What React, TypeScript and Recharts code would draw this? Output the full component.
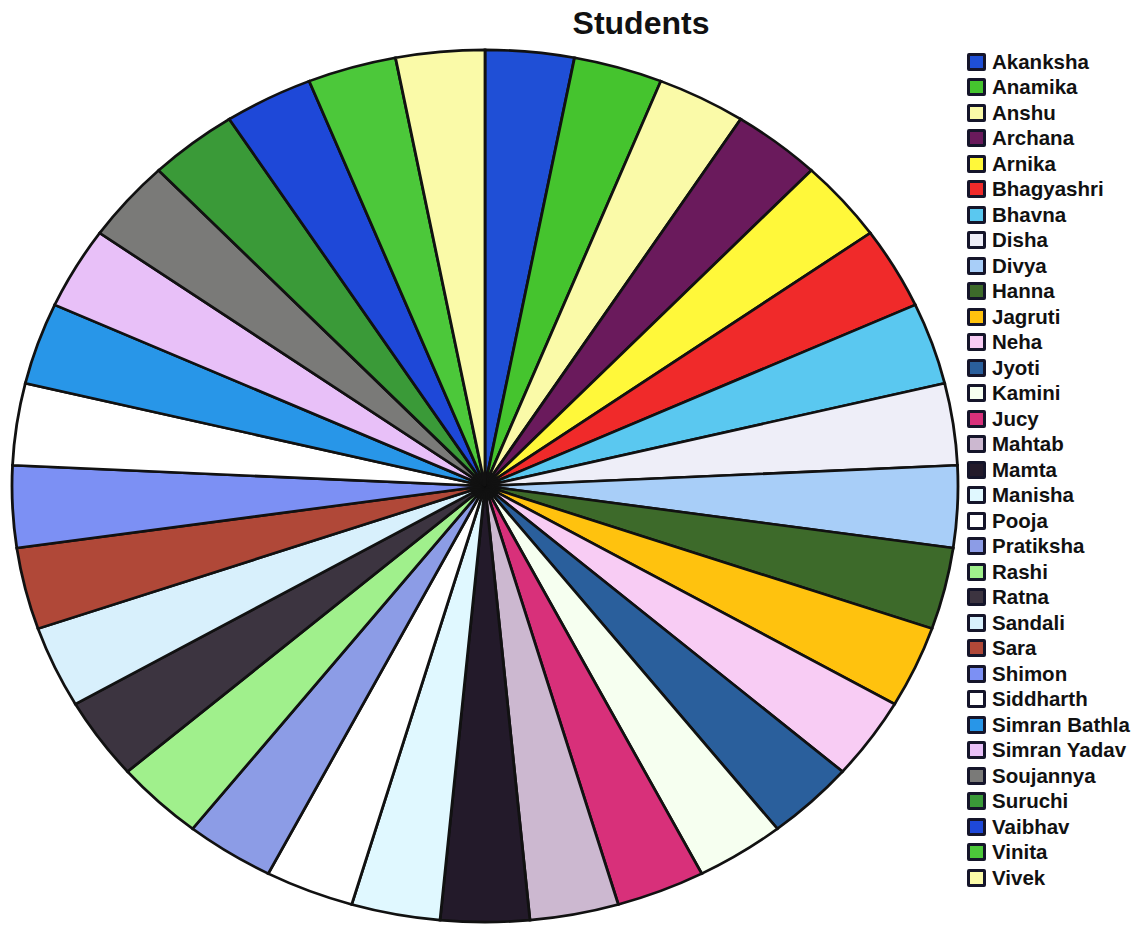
import React from "react";
import { Cell, Legend, Pie, PieChart } from "recharts";

const students = [
  "Akanksha", "Anamika", "Anshu", "Archana", "Arnika", "Bhagyashri", "Bhavna",
  "Disha", "Divya", "Hanna", "Jagruti", "Neha", "Jyoti", "Kamini", "Jucy",
  "Mahtab", "Mamta", "Manisha", "Pooja", "Pratiksha", "Rashi", "Ratna",
  "Sandali", "Sara", "Shimon", "Siddharth", "Simran Bathla", "Simran Yadav",
  "Soujannya", "Suruchi", "Vaibhav", "Vinita", "Vivek",
];

const counts = [
  1, 1, 1, 1, 1, 1, 1, 1, 1, 1, 1, 1, 1, 1, 1, 1, 1,
  1, 1, 1, 1, 1, 1, 1, 1, 1, 1, 1, 1, 1, 1, 1, 1,
];

const colors = [
  "#1f4fd6", "#45c42e", "#fafaa8", "#6a1a5c", "#fff83a", "#f02a2a", "#5ac8f0",
  "#eeeef8", "#a8cef8", "#3d6a2a", "#ffc20e", "#f8ccf4", "#2a5f9c", "#f6fff0",
  "#d8307a", "#ccb8d0", "#231a2a", "#e0f8ff", "#ffffff", "#8c9ce6", "#a0f08c",
  "#3c3440", "#d8f0fc", "#b04838", "#7c90f4", "#ffffff", "#2896e8", "#e8c0f8",
  "#7a7a78", "#3a9a38", "#1e48d8", "#4cc83a", "#fafaa8",
];

const data = students.map((name, i) => ({ name, value: counts[i] }));

const CX = 485;
const CY = 486;
const font = '"Liberation Sans", Arial, sans-serif';

// the photo squashes the pie a bit vertically
const squash = `
  .students-pie .recharts-pie {
    transform-origin: ${CX}px ${CY}px;
    transform: scaleY(0.922);
  }
`;

function StudentLegend() {
  return (
    <div style={{ fontFamily: font }}>
      {students.map((name, i) => (
        <div
          key={name}
          style={{ height: 25.5, display: "flex", alignItems: "center" }}
        >
          <span
            style={{
              width: 19,
              height: 18,
              boxSizing: "border-box",
              border: "3px solid #15152a",
              borderRadius: 2,
              background: colors[i],
              display: "inline-block",
            }}
          />
          <span
            style={{
              marginLeft: 6,
              fontSize: 20.5,
              fontWeight: "bold",
              color: "#111",
              whiteSpace: "nowrap",
            }}
          >
            {name}
          </span>
        </div>
      ))}
    </div>
  );
}

export default function App() {
  return (
    <div
      className="students-pie"
      style={{ position: "absolute", left: 0, top: 0, width: 1137, height: 927, background: "#fff" }}
    >
      <style>{squash}</style>
      <div
        style={{
          position: "absolute",
          left: 0,
          top: 5,
          width: 1282,
          textAlign: "center",
          fontFamily: font,
          fontWeight: "bold",
          fontSize: 32,
          color: "#111",
        }}
      >
        Students
      </div>
      <PieChart width={1137} height={927} margin={{ top: 0, right: 0, bottom: 0, left: 0 }}>
        <Pie
          data={data}
          dataKey="value"
          nameKey="name"
          cx={CX}
          cy={CY}
          outerRadius={473}
          startAngle={90}
          endAngle={-270}
          stroke="#111"
          strokeWidth={2.8}
          isAnimationActive={false}
        >
          {data.map((d, i) => (
            <Cell key={d.name} fill={colors[i]} />
          ))}
        </Pie>
        <Legend
          layout="vertical"
          align="right"
          verticalAlign="top"
          wrapperStyle={{ position: "absolute", left: 967, top: 49, width: 170 }}
          content={() => <StudentLegend />}
        />
      </PieChart>
    </div>
  );
}
